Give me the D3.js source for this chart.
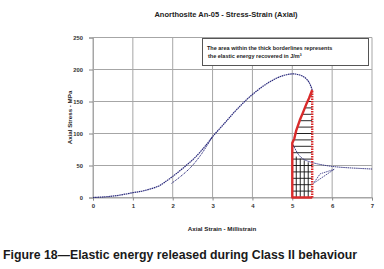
<!DOCTYPE html>
<html>
<head>
<meta charset="utf-8">
<script src="https://cdn.jsdelivr.net/npm/d3@7"></script>
<style>
    body { margin: 0; background: #fff; }
    text { font-family: "Liberation Sans", Arial, sans-serif; }
</style>
</head>
<body>
<div id="chart"></div>
<script>
// Loading curve (first branch) - strain in millistrain, stress in MPa
const loadStrain = [0, 0.3, 0.6, 1.0, 1.3, 1.65, 1.8, 2.0, 2.3, 2.6, 2.85, 3.0, 3.3, 3.6, 4.0, 4.44, 4.8, 5.07, 5.3, 5.42, 5.5];
const loadStress = [0, 1, 3, 7.5, 11, 18, 24, 33, 48, 65, 83, 95, 116, 137, 161, 181, 191, 193, 188, 180, 168];

// Reload branch
const reloadStrain = [1.97, 2.2, 2.45, 2.7, 2.9, 3.0];
const reloadStress = [22, 33, 47, 66, 85, 95];

// Post-peak boundary of the elastic energy area (red)
const redStrain = [5.5, 5.42, 5.36, 5.27, 5.19, 5.1, 5.05, 5.0, 5.0, 5.5];
const redStress = [168, 155, 147, 133, 121, 105, 92, 85, 0, 0];

// Unloading curve after the red area
const unloadStrain = [5.0, 5.1, 5.2, 5.32, 5.57, 6.0, 6.5, 7.0];
const unloadStress = [85, 72, 63, 58, 53, 48, 46, 44.5];

// Small loop near 6 millistrain
const loopStrain = [6.05, 5.7, 5.53, 6.05];
const loopStress = [44, 37, 22, 44];

// Hatching inside the area
const hatchStress = [10, 20, 30, 40, 50, 60, 70, 80, 90, 100, 110, 120, 130, 140, 150, 160];
const hatchStrain = [5.1, 5.2, 5.3, 5.4];
const hatchTop = [64, 61, 58, 55];

// Axis ticks
const xTicks = [0, 1, 2, 3, 4, 5, 6, 7];
const yTicks = [0, 50, 100, 150, 200, 250];

const width = 384, height = 269;
const margin = { top: 37.5, right: 12, bottom: 71.5, left: 93 };
const innerWidth = width - margin.left - margin.right;
const innerHeight = height - margin.top - margin.bottom;

const svg = d3.select("#chart")
    .append("svg")
    .attr("width", width)
    .attr("height", height);

const chart = svg.append("g")
    .attr("transform", `translate(${margin.left}, ${margin.top})`);

const x = d3.scaleLinear().domain([0, 7]).range([0, innerWidth]);
const y = d3.scaleLinear().domain([0, 250]).range([innerHeight, 0]);

// Grid lines
chart.append("g")
    .selectAll("line")
    .data(xTicks)
    .enter()
    .append("line")
    .attr("x1", d => x(d)).attr("x2", d => x(d))
    .attr("y1", 0).attr("y2", innerHeight)
    .attr("stroke", "#a6a6a6")
    .attr("stroke-width", 1);

chart.append("g")
    .selectAll("line")
    .data(yTicks)
    .enter()
    .append("line")
    .attr("x1", 0).attr("x2", innerWidth)
    .attr("y1", d => y(d)).attr("y2", d => y(d))
    .attr("stroke", "#a6a6a6")
    .attr("stroke-width", 1);

// Y axis
const yAxis = chart.append("g")
    .call(d3.axisLeft(y).tickValues(yTicks).tickFormat(d3.format("d")).tickSize(4).tickPadding(6));
yAxis.select(".domain").attr("stroke", "#a6a6a6");
yAxis.selectAll(".tick line").attr("stroke", "#888");
yAxis.selectAll("text")
    .attr("font-size", 5.8)
    .attr("font-weight", "bold")
    .attr("fill", "#333");

// X axis
const xAxis = chart.append("g")
    .attr("transform", `translate(0, ${innerHeight})`)
    .call(d3.axisBottom(x).tickValues(xTicks).tickFormat(d3.format("d")).tickSize(3).tickPadding(3));
xAxis.select(".domain").attr("stroke", "#a6a6a6");
xAxis.selectAll(".tick line").attr("stroke", "#888");
xAxis.selectAll("text")
    .attr("font-size", 6)
    .attr("font-weight", "bold")
    .attr("fill", "#333");

const line = d3.line()
    .x(d => x(d[0]))
    .y(d => y(d[1]));

// interpolator for the left end of the horizontal hatching
const redLeft = d3.scaleLinear()
    .domain(redStress.slice(0, 8).reverse())
    .range(redStrain.slice(0, 8).reverse())
    .clamp(true);

// Horizontal hatching
chart.append("g")
    .selectAll("line")
    .data(hatchStress)
    .enter()
    .append("line")
    .attr("x1", d => x(redLeft(d)))
    .attr("x2", x(5.5))
    .attr("y1", d => y(d)).attr("y2", d => y(d))
    .attr("stroke", "#111")
    .attr("stroke-width", 0.9);

// Vertical hatching
chart.append("g")
    .selectAll("line")
    .data(d3.zip(hatchStrain, hatchTop))
    .enter()
    .append("line")
    .attr("x1", d => x(d[0])).attr("x2", d => x(d[0]))
    .attr("y1", y(0))
    .attr("y2", d => y(d[1]))
    .attr("stroke", "#111")
    .attr("stroke-width", 0.9);

// Loading curves (dotted navy)
chart.append("path")
    .datum(d3.zip(loadStrain, loadStress))
    .attr("d", line.curve(d3.curveCatmullRom))
    .attr("fill", "none")
    .attr("stroke", "#2b2b7d")
    .attr("stroke-width", 1.2)
    .attr("stroke-dasharray", "1.6,0.6");

chart.append("path")
    .datum(d3.zip(reloadStrain, reloadStress))
    .attr("d", line.curve(d3.curveCatmullRom))
    .attr("fill", "none")
    .attr("stroke", "#2b2b7d")
    .attr("stroke-width", 1)
    .attr("stroke-dasharray", "1.2,0.8");

// Unloading curve and loop
chart.append("path")
    .datum(d3.zip(unloadStrain, unloadStress))
    .attr("d", line.curve(d3.curveBasis))
    .attr("fill", "none")
    .attr("stroke", "#2b2b7d")
    .attr("stroke-width", 0.9)
    .attr("stroke-dasharray", "1.5,0.6");

chart.append("path")
    .datum(d3.zip(loopStrain, loopStress))
    .attr("d", line.curve(d3.curveLinear))
    .attr("fill", "none")
    .attr("stroke", "#2b2b7d")
    .attr("stroke-width", 0.8)
    .attr("stroke-dasharray", "1.5,0.8");

// Red border of the elastic energy area
chart.append("path")
    .datum(d3.zip(redStrain, redStress))
    .attr("d", line.curve(d3.curveLinear))
    .attr("fill", "none")
    .attr("stroke", "#d92b2b")
    .attr("stroke-width", 2.4)
    .attr("stroke-linejoin", "round");

chart.append("line")
    .attr("x1", x(5.5)).attr("x2", x(5.5))
    .attr("y1", y(0)).attr("y2", y(redStress[0]))
    .attr("stroke", "#d92b2b")
    .attr("stroke-width", 2.4)
    .attr("stroke-dasharray", "1.5,1");

// Note box
const note = svg.append("g");
note.append("rect")
    .attr("x", 202.5).attr("y", 38.5)
    .attr("width", 166).attr("height", 27)
    .attr("fill", "#fff")
    .attr("stroke", "#555")
    .attr("stroke-width", 1);
note.append("text")
    .attr("x", 207).attr("y", 50)
    .attr("font-size", 5.5)
    .attr("font-weight", "bold")
    .attr("fill", "#222")
    .text("The area within the thick borderlines represents");
note.append("text")
    .attr("x", 208).attr("y", 57.5)
    .attr("font-size", 5.5)
    .attr("font-weight", "bold")
    .attr("fill", "#222")
    .text("the elastic energy recovered in J/m\u00B3");

// Chart title
svg.append("text")
    .attr("x", 226).attr("y", 17)
    .style("text-anchor", "middle")
    .attr("font-size", 7.5)
    .attr("font-weight", "bold")
    .attr("fill", "#222")
    .text("Anorthosite An-05  -  Stress-Strain  (Axial)");

// x axis label
svg.append("text")
    .attr("x", 222).attr("y", 231)
    .style("text-anchor", "middle")
    .attr("font-size", 6.2)
    .attr("font-weight", "bold")
    .attr("fill", "#222")
    .text("Axial Strain  -  Millistrain");

// y axis label
svg.append("text")
    .attr("transform", `translate(72, ${margin.top + innerHeight / 2}) rotate(-90)`)
    .style("text-anchor", "middle")
    .attr("font-size", 6.2)
    .attr("font-weight", "bold")
    .attr("fill", "#222")
    .text("Axial Stress  -  MPa");

// Figure caption
svg.append("text")
    .attr("x", 3).attr("y", 259)
    .attr("font-size", 12.3)
    .attr("font-weight", "bold")
    .attr("fill", "#1a1a1a")
    .text("Figure 18\u2014Elastic energy released during Class II behaviour");
</script>
</body>
</html>
